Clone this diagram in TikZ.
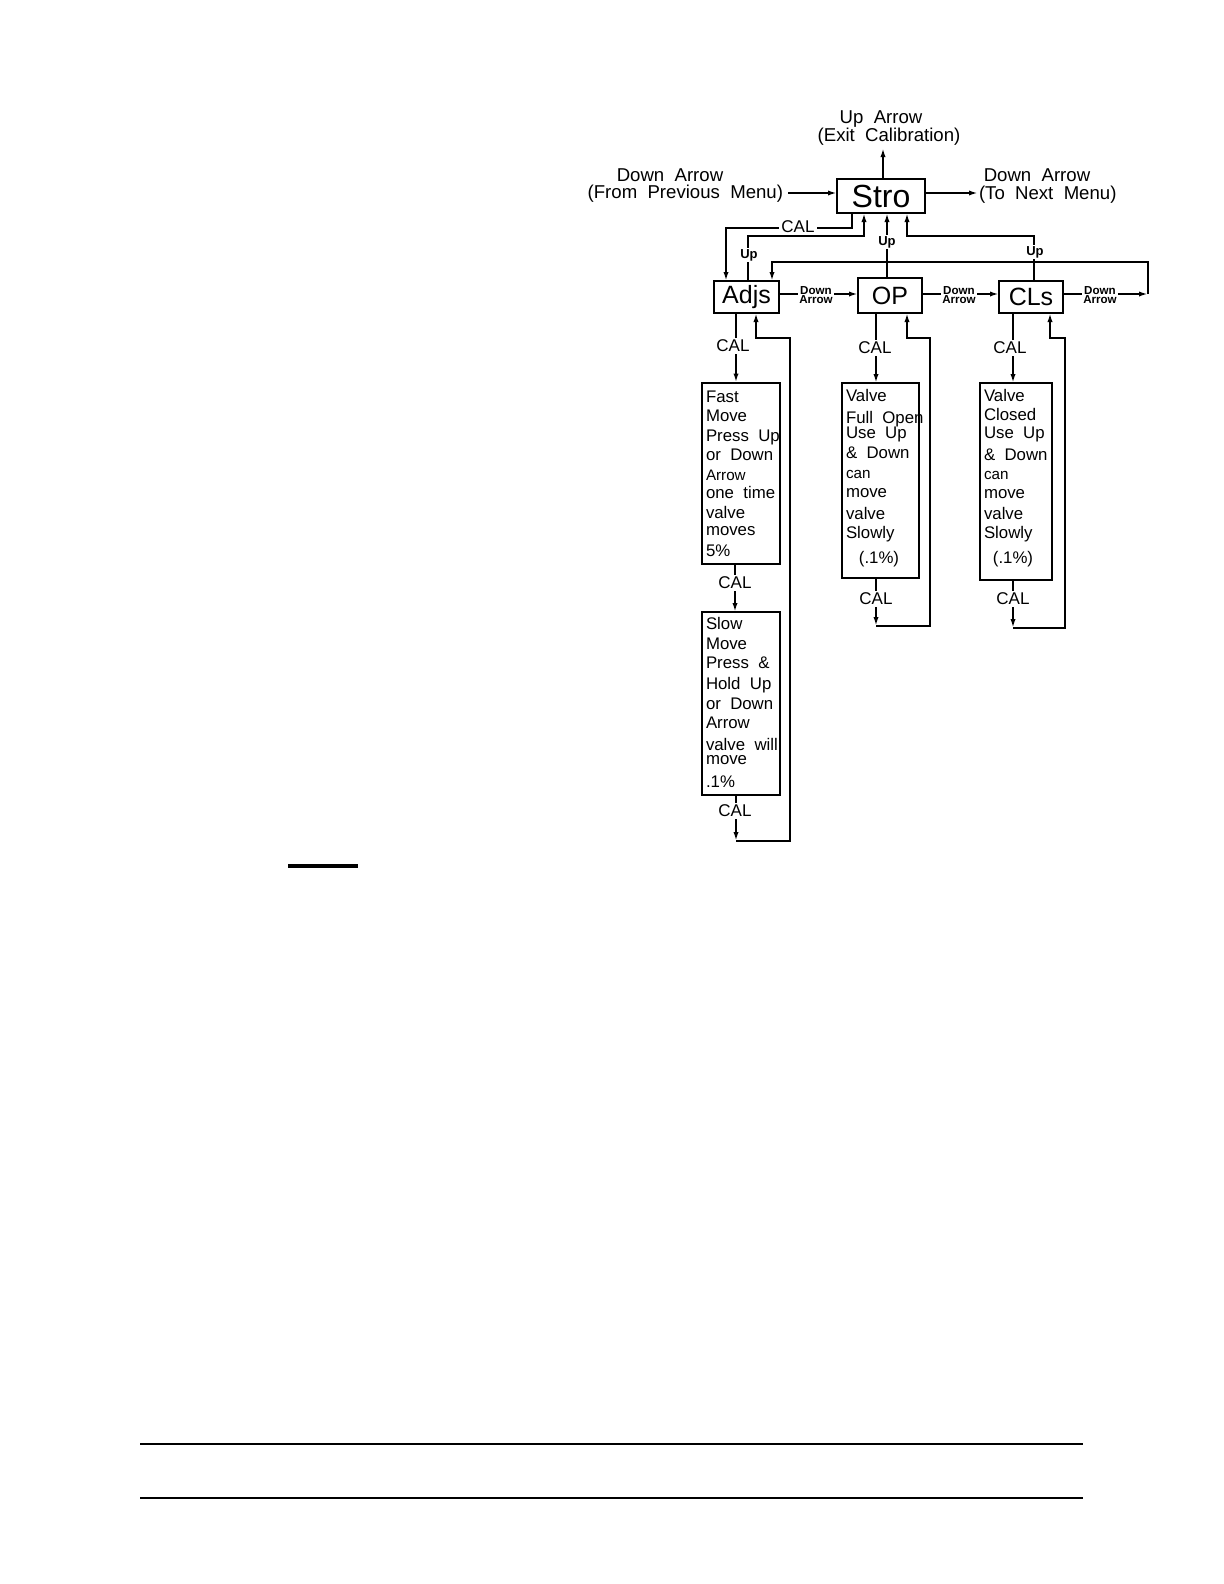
\documentclass[tikz,border=0pt]{standalone}
\usepackage{fontspec}
\setmainfont{Liberation Sans}
\usetikzlibrary{arrows.meta}
\newcommand\myfs[1]{\fontsize{#1bp}{#1bp}\selectfont}
\begin{document}
\begin{tikzpicture}[x=0.5bp,y=-0.5bp,
 line width=1bp,
 arr/.style={-{Latex[length=4.5bp,width=2.6bp]}},
 box/.style={draw,inner sep=0pt,outer sep=0pt},
 lbl/.style={font=\myfs{9.3},inner sep=0pt},
 cal/.style={font=\myfs{8.5},fill=white,inner sep=1pt},
 uplbl/.style={font=\bfseries\myfs{6.5},fill=white,inner sep=0.5pt},
 dalbl/.style={font=\bfseries\myfs{5.8},align=center,fill=white,inner sep=0.8pt},
 txt/.style={font=\myfs{8.4},anchor=base west,inner sep=0pt},
]
\useasboundingbox (0,0) rectangle (1224,1584);

% main boxes
\node[box,font=\myfs{16},minimum width=44bp,minimum height=17bp] (stro) at (881,196) {Stro};
\node[box,font=\myfs{12.5},minimum width=32.5bp,minimum height=16bp] (adjs) at (746.5,297) {Adjs};
\node[box,font=\myfs{12.5},minimum width=32bp,minimum height=17.5bp] (op) at (890,295.5) {OP};
\node[box,font=\myfs{12.5},minimum width=32bp,minimum height=16bp] (cls) at (1031,297) {CLs};

% side texts of Stro
\node[lbl] (upa) at (881,119) {Up\ \ Arrow};
\node[lbl] (exit) at (889,137) {(Exit\ \ Calibration)};
\node[lbl] (dfa) at (670,175) {Down\ \ Arrow};
\node[lbl,anchor=east] (fpm) at (784,194) {(From\ \ Previous\ \ Menu)};
\node[lbl] (dta) at (1037,175) {Down\ \ Arrow};
\node[lbl,anchor=west] (tnm) at (978,195) {(To\ \ Next\ \ Menu)};
\coordinate (ua) at (883,148);

\draw[arr] (883,0 |- stro.north) -- (ua);
\draw[arr] (fpm.east |- 0,193) ++(4,0) -- (stro.west |- 0,193);
\draw[arr] (stro.east |- 0,193) -- (tnm.west |- 0,193);

% detail boxes
\node[box,minimum width=39bp,minimum height=90.5bp] (fast) at (741,473) {};
\node[box,minimum width=39bp,minimum height=91.5bp] (slow) at (741,703.5) {};
\node[box,minimum width=38.5bp,minimum height=97.5bp] (vo) at (880.5,480.5) {};
\node[box,minimum width=36bp,minimum height=98.5bp] (vc) at (1016,481.5) {};

% texts in boxes
\foreach \t/\y [count=\i] in {Fast/396, Move/415, Press\ \ Up/435, or\ \ Down/454, {\myfs{7.6}Arrow}/474, one\ \ time/492, valve/512, moves/529, 5\%/550}
  \node[txt] (fa\i) at (705,\y+6) {\t};
\foreach \t/\y [count=\i] in {Slow/623, Move/643, Press\ \ \&/662, Hold\ \ Up/683, or\ \ Down/703, Arrow/722, valve\ \ will/744, move/758, .1\%/781}
  \node[txt] (sl\i) at (705,\y+6) {\t};
\foreach \t/\y [count=\i] in {Valve/395, Full\ \ Open/417, Use\ \ Up/432, \&\ \ Down/452, {\myfs{7.6}can}/472, move/491, valve/513, Slowly/532}
  \node[txt] (vo\i) at (845,\y+6) {\t};
\node[txt,anchor=base] (vo9) at (879,563) {(.1\%)};
\foreach \t/\y [count=\i] in {Valve/395, Closed/414, Use\ \ Up/432, \&\ \ Down/454, {\myfs{7.6}can}/473, move/492, valve/513, Slowly/532}
  \node[txt] (vc\i) at (983,\y+6) {\t};
\node[txt,anchor=base] (vc9) at (1013,563) {(.1\%)};

% CAL and Up connectors between Stro and row
\draw[arr] (852,0 |- stro.south) |- (726,228) -- (726,0 |- adjs.north);
\draw[arr] (748,0 |- adjs.north) |- (864,236) -- (864,0 |- stro.south);
\draw[arr] (887,0 |- op.north) -- (887,0 |- stro.south);
\draw[arr] (1034,0 |- cls.north) |- (907,236) -- (907,0 |- stro.south);

% Down Arrow row
\coordinate (cr) at (1148,294);
\draw[arr] (adjs.east |- 0,294) -- (op.west |- 0,294);
\draw[arr] (op.east |- 0,294) -- (cls.west |- 0,294);
\draw[arr] (cls.east |- 0,294) -- (cr);
\draw[arr] (cr) |- (772,262) -- (772,0 |- adjs.north);

% Adjs column
\coordinate (c1) at (736,841);
\draw[arr] (736,0 |- adjs.south) -- (736,0 |- fast.north);
\draw[arr] (735,0 |- fast.south) -- (735,0 |- slow.north);
\draw[arr] (736,0 |- slow.south) -- (c1);
\draw[arr] (c1) -- (790,841) |- (756,338) -- (756,0 |- adjs.south);

% OP column
\coordinate (c2) at (876,626);
\draw[arr] (876,0 |- op.south) -- (876,0 |- vo.north);
\draw[arr] (876,0 |- vo.south) -- (c2);
\draw[arr] (c2) -- (930,626) |- (907,338) -- (907,0 |- op.south);

% CLs column
\coordinate (c3) at (1013,628);
\draw[arr] (1013,0 |- cls.south) -- (1013,0 |- vc.north);
\draw[arr] (1013,0 |- vc.south) -- (c3);
\draw[arr] (c3) -- (1065,628) |- (1050,338) -- (1050,0 |- cls.south);

% labels over lines
\node[cal] (l1) at (798,227) {CAL};
\node[uplbl] (u1) at (749,255) {Up};
\node[uplbl] (u2) at (887,242) {Up};
\node[uplbl] (u3) at (1035,252) {Up};
\node[dalbl] (d1) at (816,295) {Down\\[-1.4bp]Arrow};
\node[dalbl] (d2) at (959,295) {Down\\[-1.4bp]Arrow};
\node[dalbl] (d3) at (1100,295) {Down\\[-1.4bp]Arrow};
\node[cal] (l2) at (733,346) {CAL};
\node[cal] (l3) at (735,583) {CAL};
\node[cal] (l4) at (735,811) {CAL};
\node[cal] (l5) at (875,348) {CAL};
\node[cal] (l6) at (876,599) {CAL};
\node[cal] (l7) at (1010,348) {CAL};
\node[cal] (l8) at (1013,599) {CAL};

% page rules
\draw[line width=1.6bp] (288,866) -- (358,866);
\draw (140,1444) -- (1083,1444);
\draw (140,1498) -- (1083,1498);
\end{tikzpicture}
\end{document}
